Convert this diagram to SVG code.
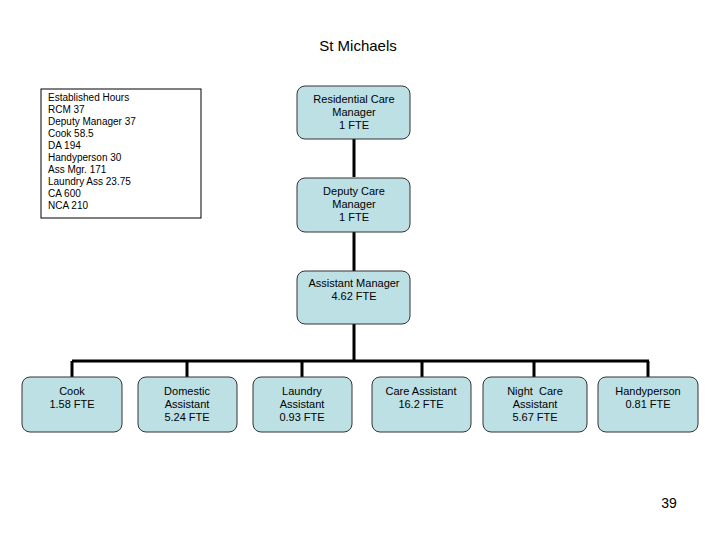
<svg xmlns="http://www.w3.org/2000/svg" width="720" height="540" viewBox="0 0 720 540">
<style>
.n{fill:#bde0e4;stroke:#333;stroke-width:1}
.t{font-family:"Liberation Sans",Arial,sans-serif;font-size:11px;fill:#000;text-anchor:middle}
.k{font-family:"Liberation Sans",Arial,sans-serif;font-size:10px;fill:#000}
.c{stroke:#000;stroke-width:3;fill:none}
</style>
<rect width="720" height="540" fill="#fff"/>
<text x="358" y="51" style="font-family:'Liberation Sans',Arial,sans-serif;font-size:15px;text-anchor:middle">St Michaels</text>
<g id="hours">
<rect x="41" y="89" width="160" height="129" fill="#fff" stroke="#000" stroke-width="1"/>
<text class="k" x="48" y="101">Established Hours</text>
<text class="k" x="48" y="113">RCM 37</text>
<text class="k" x="48" y="125">Deputy Manager 37</text>
<text class="k" x="48" y="137">Cook 58.5</text>
<text class="k" x="48" y="149">DA 194</text>
<text class="k" x="48" y="161">Handyperson 30</text>
<text class="k" x="48" y="173">Ass Mgr. 171</text>
<text class="k" x="48" y="185">Laundry Ass 23.75</text>
<text class="k" x="48" y="197">CA 600</text>
<text class="k" x="48" y="209">NCA 210</text>
</g>
<g id="connectors">
<path class="c" d="M354 139V177M354 232V271M354 324V361M72 361H649M72 361V377M187 361V377M302 361V377M422 361V377M534 361V377M648 361V377"/>
</g>
<g id="rcm"><rect class="n" x="297" y="86" width="113" height="53" rx="8"/>
<text class="t" x="354" y="103">Residential Care</text><text class="t" x="354" y="116">Manager</text><text class="t" x="354" y="129">1 FTE</text></g>
<g id="dcm"><rect class="n" x="297" y="178" width="113" height="54" rx="8"/>
<text class="t" x="354" y="195">Deputy Care</text><text class="t" x="354" y="208">Manager</text><text class="t" x="354" y="221">1 FTE</text></g>
<g id="am"><rect class="n" x="297" y="271" width="113" height="53" rx="8"/>
<text class="t" x="354" y="287">Assistant Manager</text><text class="t" x="354" y="300">4.62 FTE</text></g>
<g id="cook"><rect class="n" x="22" y="377" width="100" height="55" rx="8"/>
<text class="t" x="72" y="395">Cook</text><text class="t" x="72" y="408">1.58 FTE</text></g>
<g id="da"><rect class="n" x="138" y="377" width="99" height="55" rx="8"/>
<text class="t" x="187" y="395">Domestic</text><text class="t" x="187" y="408">Assistant</text><text class="t" x="187" y="421">5.24 FTE</text></g>
<g id="la"><rect class="n" x="253" y="377" width="99" height="55" rx="8"/>
<text class="t" x="302" y="395">Laundry</text><text class="t" x="302" y="408">Assistant</text><text class="t" x="302" y="421">0.93 FTE</text></g>
<g id="ca"><rect class="n" x="372" y="377" width="99" height="55" rx="8"/>
<text class="t" x="421" y="395">Care Assistant</text><text class="t" x="421" y="408">16.2 FTE</text></g>
<g id="nca"><rect class="n" x="483" y="377" width="104" height="55" rx="8"/>
<text class="t" x="535" y="395" xml:space="preserve">Night  Care</text><text class="t" x="535" y="408">Assistant</text><text class="t" x="535" y="421">5.67 FTE</text></g>
<g id="hp"><rect class="n" x="598" y="377" width="100" height="55" rx="8"/>
<text class="t" x="648" y="395">Handyperson</text><text class="t" x="648" y="408">0.81 FTE</text></g>
<text x="669" y="508" style="font-family:'Liberation Sans',Arial,sans-serif;font-size:14px;text-anchor:middle">39</text>
</svg>
